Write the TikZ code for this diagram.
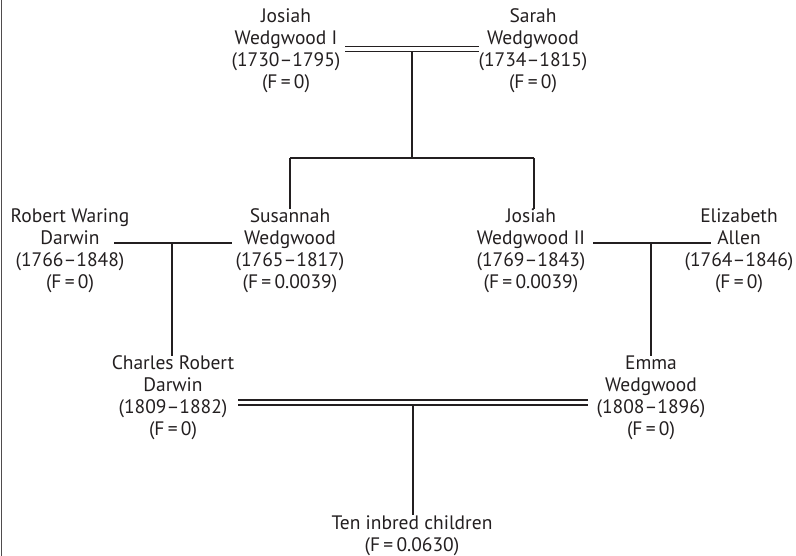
\documentclass[tikz,border=0pt]{standalone}
\usepackage{fontspec}
\setmainfont{PT Sans}
\definecolor{ink}{HTML}{231F20}
\begin{document}
\begin{tikzpicture}[x=1pt,y=-1pt,
  person/.style={align=center,inner sep=0pt,text=ink,font=\fontsize{19.5}{22}\selectfont},
  link/.style={draw=ink,line width=1.9pt},
  marriage/.style={draw=ink,line width=1.8pt,double=white,double distance=3.2pt}]
\useasboundingbox (0,0) rectangle (796,556);
\draw[draw=ink!80,line width=1.5pt] (1.5,0) -- (1.5,556);
% people
\node[person] (jw1) at (286,50.5) {Josiah\\Wedgwood I\\(1730–1795)\\(F\,=\,0)};
\node[person] (sw) at (533,50.5) {Sarah\\Wedgwood\\(1734–1815)\\(F\,=\,0)};
\node[person] (rwd) at (70,251) {Robert Waring\\Darwin\\(1766–1848)\\(F\,=\,0)};
\node[person] (susw) at (290,251) {Susannah\\Wedgwood\\(1765–1817)\\(F\,=\,0.0039)};
\node[person] (jw2) at (531,251) {Josiah\\Wedgwood II\\(1769–1843)\\(F\,=\,0.0039)};
\node[person] (ea) at (739,251) {Elizabeth\\Allen\\(1764–1846)\\(F\,=\,0)};
\node[person] (crd) at (173,398) {Charles Robert\\Darwin\\(1809–1882)\\(F\,=\,0)};
\node[person] (ew) at (651,398) {Emma\\Wedgwood\\(1808–1896)\\(F\,=\,0)};
\node[person] (kids) at (412,535.5) {Ten inbred children\\(F\,=\,0.0630)};
% junction coordinates
\coordinate (a1) at (345,49);
\coordinate (a2) at (479,49);
\coordinate (m1) at (412,52);
\coordinate (s1) at (412,158);
\coordinate (s2) at (290,158);
\coordinate (s3) at (534,158);
\coordinate (b1) at (114,243);
\coordinate (b2) at (232,243);
\coordinate (m2) at (172,243);
\coordinate (c1) at (593,243);
\coordinate (c2) at (711,243);
\coordinate (m3) at (651,243);
\coordinate (d1) at (238,402.5);
\coordinate (d2) at (588,402.5);
\coordinate (m4) at (413,406);
% connectors
\path[marriage] (a1) -- (a2);
\draw[link] (m1) -- (s1);
\draw[link] (s2) -- (s3);
\draw[link] (s2) -- (s2 |- susw.north);
\draw[link] (s3) -- (s3 |- jw2.north);
\draw[link] (b1) -- (b2);
\draw[link] (m2) -- (m2 |- crd.north);
\draw[link] (c1) -- (c2);
\draw[link] (m3) -- (m3 |- ew.north);
\path[marriage] (d1) -- (d2);
\draw[link] (m4) -- (m4 |- kids.north);
\end{tikzpicture}
\end{document}
